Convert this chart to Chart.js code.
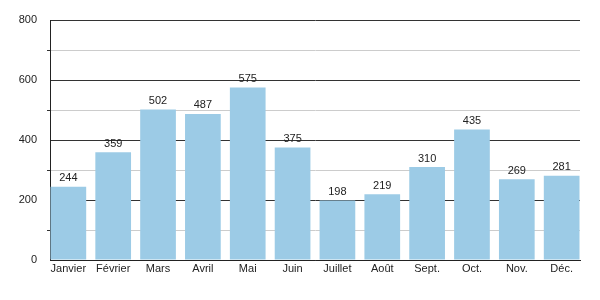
<!DOCTYPE html>
<html>
<head>
<meta charset="utf-8">
<script src="https://cdn.jsdelivr.net/npm/chart.js@4"></script>
<style>
  html, body { margin: 0; padding: 0; background: #fff; }
  #wrap { width: 600px; height: 300px; }
</style>
</head>
<body>
<div id="wrap"><canvas id="barChart"></canvas></div>
<script>
var months = ["Janvier", "Février", "Mars", "Avril", "Mai", "Juin", "Juillet", "Août", "Sept.", "Oct.", "Nov.", "Déc."];
var values = [244, 359, 502, 487, 575, 375, 198, 219, 310, 435, 269, 281];
var yTicks = [0, 200, 400, 600, 800];

// bars sit flush against both ends of the axis, so x is a linear scale
var points = values.map(function(v, i) { return { x: i, y: v }; });
var edge = 0.409;

// value labels above each bar
var valueLabels = {
    id: 'valueLabels',
    afterDatasetsDraw: function(chart) {
        var ctx = chart.ctx;
        var meta = chart.getDatasetMeta(0);
        ctx.save();
        ctx.font = '11px "Liberation Sans", Arial, sans-serif';
        ctx.fillStyle = '#222';
        ctx.textAlign = 'center';
        ctx.textBaseline = 'bottom';
        meta.data.forEach(function(bar, i) {
            ctx.fillText(values[i], bar.x, bar.y - 3);
        });
        ctx.restore();
    }
};

var ctxB = document.getElementById("barChart").getContext('2d');
var myBarChart = new Chart(ctxB, {
    type: 'bar',
    data: {
        datasets: [{
            data: points,
            backgroundColor: '#9ccbe6',
            borderWidth: 0,
            barPercentage: 0.796,
            categoryPercentage: 1.0
        }]
    },
    options: {
        responsive: true,
        maintainAspectRatio: false,
        animation: false,
        layout: { padding: { top: 20, right: 20, left: 0, bottom: 0 } },
        plugins: { legend: { display: false }, tooltip: { enabled: false } },
        scales: {
            x: {
                type: 'linear',
                min: -edge,
                max: months.length - 1 + edge,
                offset: false,
                grid: { display: false, drawTicks: false },
                border: { color: '#222', width: 1 },
                afterBuildTicks: function(scale) {
                    scale.ticks = months.map(function(m, i) { return { value: i }; });
                },
                ticks: {
                    color: '#222',
                    padding: 2,
                    maxRotation: 0,
                    autoSkip: false,
                    font: { family: '"Liberation Sans", Arial, sans-serif', size: 11 },
                    callback: function(v) { return months[v]; }
                },
                afterFit: function(scale) { scale.height = 40; }
            },
            y: {
                min: 0,
                max: 800,
                border: { color: '#222', width: 1 },
                grid: {
                    color: function(c) { return c.tick.value % 200 === 0 ? '#333' : '#cccccc'; },
                    tickColor: function(c) { return c.tick.value % 200 === 0 ? 'rgba(0,0,0,0)' : '#333'; },
                    tickLength: 3
                },
                ticks: {
                    stepSize: 100,
                    color: '#222',
                    padding: 10,
                    font: { family: '"Liberation Sans", Arial, sans-serif', size: 11 },
                    callback: function(v) { return yTicks.indexOf(v) >= 0 ? v : ''; }
                },
                afterFit: function(scale) { scale.width = 50; }
            }
        }
    },
    plugins: [valueLabels]
});
</script>
</body>
</html>
